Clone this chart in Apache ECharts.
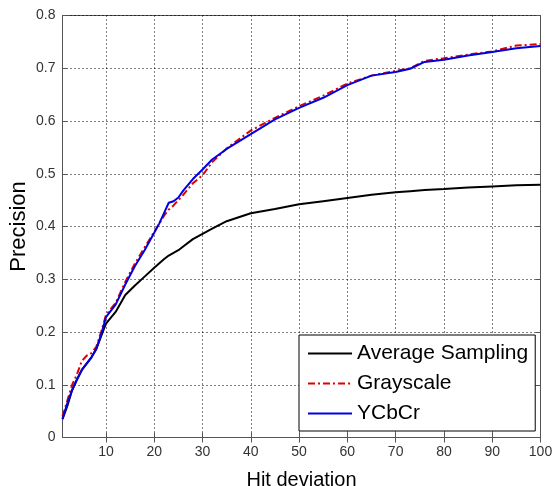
<!DOCTYPE html>
<html>
<head>
<meta charset="utf-8">
<script src="https://cdn.jsdelivr.net/npm/echarts@6/dist/echarts.min.js"></script>
<style>html,body{margin:0;padding:0;background:#fff}#c{width:553px;height:486px}</style>
</head>
<body>
<div id="c"></div>
<script>
const hitDeviation = [1,2,3,4,5,6,7,8,9,10,12,14,16,18,20,21,22,23,24,25,26,28,30,32,35,40,45,50,55,60,65,70,73,76,80,85,90,95,100];
const averageSampling = [0.035,0.06,0.09,0.11,0.128,0.14,0.152,0.168,0.192,0.216,0.238,0.27,0.288,0.305,0.322,0.33,0.338,0.345,0.35,0.355,0.362,0.376,0.386,0.396,0.41,0.425,0.433,0.442,0.448,0.454,0.46,0.465,0.467,0.469,0.471,0.474,0.476,0.478,0.479];
const grayscale = [0.04,0.07,0.1,0.12,0.145,0.155,0.16,0.172,0.2,0.232,0.255,0.295,0.33,0.36,0.39,0.405,0.42,0.432,0.44,0.45,0.46,0.482,0.497,0.522,0.548,0.582,0.606,0.628,0.648,0.671,0.686,0.695,0.7,0.714,0.719,0.726,0.732,0.743,0.746];
const ycbcr = [0.035,0.065,0.09,0.11,0.128,0.14,0.152,0.168,0.195,0.228,0.252,0.29,0.325,0.355,0.388,0.405,0.425,0.445,0.448,0.455,0.468,0.49,0.508,0.527,0.547,0.575,0.603,0.625,0.644,0.668,0.686,0.693,0.699,0.712,0.716,0.724,0.731,0.738,0.742];
const xTicks = [10,20,30,40,50,60,70,80,90,100];
const seriesNames = ['Average Sampling','Grayscale','YCbCr'];

const pairs = (ys) => hitDeviation.map((x, i) => [x, ys[i]]);
const chart = echarts.init(document.getElementById('c'), null, {renderer: 'canvas'});
const axisColor = '#555';
const font = 'Liberation Sans, Arial, sans-serif';
const lblStyle = {color: '#333', fontSize: 14, fontFamily: font};
const gridLine = {show: true, lineStyle: {color: '#000', type: [1, 3], width: 1}};
chart.setOption({
  backgroundColor: '#fff',
  animation: false,
  grid: {left: 62.5, top: 15.5, right: 12.5, bottom: 48.5, outerBoundsMode: 'none', containLabel: false,
         show: true, borderColor: axisColor, borderWidth: 1},
  xAxis: [{
    type: 'value', min: 1, max: 100, position: 'bottom',
    name: 'Hit deviation', nameLocation: 'middle', nameGap: 33,
    nameTextStyle: {color: '#000', fontSize: 20, fontFamily: font},
    axisLine: {show: true, lineStyle: {color: axisColor}},
    axisTick: {show: true, inside: true, length: 5, customValues: xTicks, lineStyle: {color: axisColor}},
    axisLabel: Object.assign({customValues: xTicks, margin: 8}, lblStyle),
    splitLine: gridLine
  }, {
    type: 'value', min: 1, max: 100, position: 'top',
    axisLine: {show: true, lineStyle: {color: axisColor}},
    axisTick: {show: true, inside: true, length: 5, customValues: xTicks, lineStyle: {color: axisColor}},
    axisLabel: {show: false}, splitLine: {show: false}
  }],
  yAxis: [{
    type: 'value', min: 0, max: 0.8, interval: 0.1, position: 'left',
    name: 'Precision', nameLocation: 'middle', nameGap: 33, nameRotate: 90, nameMoveOverlap: false,
    nameTextStyle: {color: '#000', fontSize: 22, fontFamily: font},
    axisLine: {show: true, lineStyle: {color: axisColor}},
    axisTick: {show: true, inside: true, length: 5, lineStyle: {color: axisColor}},
    axisLabel: Object.assign({margin: 7}, lblStyle),
    splitLine: gridLine
  }, {
    type: 'value', min: 0, max: 0.8, interval: 0.1, position: 'right',
    axisLine: {show: true, lineStyle: {color: axisColor}},
    axisTick: {show: true, inside: true, length: 5, lineStyle: {color: axisColor}},
    axisLabel: {show: false}, splitLine: {show: false}
  }],
  legend: {
    show: true, orient: 'vertical', left: 299, top: 335,
    backgroundColor: '#fff', borderColor: '#000', borderWidth: 1,
    padding: [8, 7, 7, 8], itemGap: 9, itemWidth: 44, itemHeight: 14,
    itemStyle: {opacity: 0},
    textStyle: {color: '#000', fontSize: 21, fontFamily: font},
    data: seriesNames
  },
  series: [
    {name: seriesNames[0], type: 'line', data: pairs(averageSampling), symbol: 'none',
     lineStyle: {color: '#000', width: 2}, itemStyle: {color: '#000'}},
    {name: seriesNames[1], type: 'line', data: pairs(grayscale), symbol: 'none',
     lineStyle: {color: '#e00000', width: 2, type: [7, 3, 2, 3]}, itemStyle: {color: '#e00000'}},
    {name: seriesNames[2], type: 'line', data: pairs(ycbcr), symbol: 'none',
     lineStyle: {color: '#0000e0', width: 2}, itemStyle: {color: '#0000e0'}}
  ]
});
</script>
</body>
</html>
